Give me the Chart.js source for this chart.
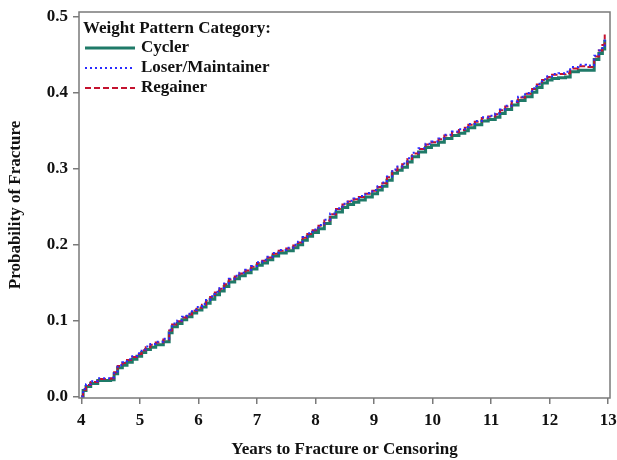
<!DOCTYPE html>
<html>
<head>
<meta charset="utf-8">
<script src="https://cdn.jsdelivr.net/npm/chart.js@4"></script>
<style>
  html, body { margin: 0; padding: 0; background: #fff; }
  #wrap { width: 617px; height: 460px; }
</style>
</head>
<body>
<div id="wrap"><canvas id="myChart" width="617" height="460"></canvas></div>
<script>
// Zaman (yıl) noktaları
const years = [4.00, 4.03, 4.08, 4.16, 4.28, 4.50, 4.56, 4.62, 4.70, 4.78, 4.87, 4.95, 5.03, 5.10, 5.18, 5.27, 5.40, 5.50, 5.55, 5.64,
  5.72, 5.80, 5.89, 5.97, 6.06, 6.13, 6.20, 6.28, 6.36, 6.44, 6.52, 6.62, 6.70, 6.80, 6.90, 7.00, 7.09, 7.18, 7.27, 7.37,
  7.50, 7.62, 7.70, 7.78, 7.86, 7.95, 8.05, 8.15, 8.25, 8.35, 8.46, 8.55, 8.65, 8.74, 8.85, 8.97, 9.06, 9.14, 9.22, 9.31,
  9.40, 9.48, 9.57, 9.65, 9.76, 9.88, 9.98, 10.10, 10.20, 10.33, 10.45, 10.55, 10.61, 10.72, 10.84, 10.95, 11.07, 11.15, 11.24, 11.35,
  11.46, 11.58, 11.70, 11.78, 11.87, 11.96, 12.04, 12.15, 12.27, 12.35, 12.49, 12.62, 12.76, 12.84, 12.90, 12.94];

// Kümülatif kırık olasılığı, her grup için
const cycler = [0.000, 0.008, 0.013, 0.017, 0.021, 0.022, 0.030, 0.038, 0.041, 0.045, 0.049, 0.053, 0.058, 0.062, 0.065, 0.068, 0.072, 0.084, 0.092, 0.096,
  0.101, 0.105, 0.110, 0.114, 0.118, 0.123, 0.128, 0.134, 0.139, 0.145, 0.151, 0.155, 0.159, 0.163, 0.168, 0.173, 0.176, 0.180, 0.185, 0.189,
  0.192, 0.196, 0.200, 0.206, 0.211, 0.216, 0.221, 0.228, 0.236, 0.243, 0.249, 0.253, 0.256, 0.259, 0.263, 0.267, 0.272, 0.277, 0.285, 0.294,
  0.298, 0.302, 0.309, 0.316, 0.322, 0.328, 0.331, 0.335, 0.340, 0.344, 0.347, 0.350, 0.354, 0.358, 0.363, 0.365, 0.368, 0.373, 0.378, 0.384,
  0.390, 0.395, 0.401, 0.407, 0.413, 0.417, 0.419, 0.420, 0.421, 0.428, 0.430, 0.430, 0.444, 0.452, 0.458, 0.470];

const loserMaintainer = [0.000, 0.010, 0.016, 0.020, 0.024, 0.025, 0.033, 0.041, 0.045, 0.049, 0.053, 0.057, 0.062, 0.066, 0.069, 0.072, 0.076, 0.088, 0.096, 0.100,
  0.105, 0.109, 0.114, 0.118, 0.122, 0.127, 0.132, 0.138, 0.143, 0.149, 0.155, 0.159, 0.163, 0.167, 0.172, 0.177, 0.180, 0.184, 0.189, 0.193,
  0.196, 0.200, 0.204, 0.210, 0.215, 0.220, 0.226, 0.233, 0.241, 0.248, 0.254, 0.258, 0.261, 0.264, 0.268, 0.272, 0.277, 0.282, 0.290, 0.299,
  0.303, 0.307, 0.314, 0.321, 0.327, 0.333, 0.336, 0.340, 0.345, 0.349, 0.352, 0.355, 0.359, 0.363, 0.368, 0.370, 0.373, 0.378, 0.383, 0.389,
  0.395, 0.400, 0.406, 0.412, 0.418, 0.422, 0.425, 0.426, 0.428, 0.434, 0.437, 0.436, 0.449, 0.456, 0.462, 0.474];

const regainer = [0.000, 0.009, 0.015, 0.019, 0.023, 0.024, 0.032, 0.040, 0.044, 0.048, 0.052, 0.056, 0.061, 0.065, 0.068, 0.071, 0.075, 0.087, 0.095, 0.099,
  0.104, 0.108, 0.113, 0.117, 0.121, 0.126, 0.131, 0.137, 0.142, 0.148, 0.154, 0.158, 0.162, 0.166, 0.171, 0.176, 0.179, 0.183, 0.188, 0.192,
  0.195, 0.199, 0.203, 0.209, 0.214, 0.219, 0.225, 0.232, 0.240, 0.247, 0.253, 0.257, 0.260, 0.263, 0.267, 0.271, 0.276, 0.281, 0.289, 0.298,
  0.302, 0.306, 0.313, 0.320, 0.326, 0.332, 0.335, 0.339, 0.344, 0.348, 0.351, 0.354, 0.358, 0.362, 0.367, 0.369, 0.372, 0.377, 0.382, 0.388,
  0.394, 0.399, 0.405, 0.411, 0.417, 0.421, 0.424, 0.425, 0.426, 0.432, 0.435, 0.434, 0.448, 0.456, 0.463, 0.477];

const xTicks = [4, 5, 6, 7, 8, 9, 10, 11, 12, 13];
const yTicks = [0, 0.1, 0.2, 0.3, 0.4, 0.5];

const legendTitle = 'Weight Pattern Category:';
const xTitle = 'Years to Fracture or Censoring';
const yTitle = 'Probability of Fracture';

const serif = '"Liberation Serif", "Times New Roman", serif';

function toPoints(vals) {
    return years.map((t, i) => ({ x: t, y: vals[i] }));
}

// Çizim alanının çerçevesi ve grafiğin içindeki açıklama
const framePlugin = {
    id: 'frame',
    afterDraw(chart) {
        const { ctx, chartArea: a } = chart;
        ctx.save();
        ctx.strokeStyle = '#7a7a7a';
        ctx.lineWidth = 1.5;
        ctx.strokeRect(a.left, a.top, a.right - a.left, a.bottom - a.top);

        ctx.fillStyle = '#111';
        ctx.font = 'bold 17px ' + serif;
        ctx.textBaseline = 'middle';
        ctx.textAlign = 'left';
        ctx.fillText(legendTitle, a.left + 4, 29);
        const rows = [48, 68, 88];
        chart.data.datasets.forEach((ds, i) => {
            const y = rows[i];
            ctx.beginPath();
            ctx.strokeStyle = ds.borderColor;
            ctx.lineWidth = ds.borderWidth;
            ctx.setLineDash(ds.borderDash || []);
            ctx.moveTo(a.left + 6, y);
            ctx.lineTo(a.left + 56, y);
            ctx.stroke();
            ctx.setLineDash([]);
            ctx.fillText(ds.label, a.left + 62, y);
        });
        ctx.restore();
    }
};

const ctx = document.getElementById('myChart').getContext('2d');
let chart = new Chart(ctx, {
    type: 'line',
    data: {
        datasets: [{
            label: 'Cycler',
            data: toPoints(cycler),
            borderColor: '#1f7a68',
            borderWidth: 3,
            order: 3
        }, {
            label: 'Loser/Maintainer',
            data: toPoints(loserMaintainer),
            borderColor: '#2a2aff',
            borderWidth: 2,
            borderDash: [2, 3],
            order: 1
        }, {
            label: 'Regainer',
            data: toPoints(regainer),
            borderColor: '#c4122e',
            borderWidth: 2,
            borderDash: [6, 3],
            order: 2
        }]
    },
    options: {
        responsive: false,
        animation: false,
        events: [],
        layout: { padding: { top: 12, right: 7, left: 0, bottom: 0 } },
        elements: {
            point: { radius: 0 },
            line: { stepped: 'before', tension: 0 }
        },
        plugins: {
            legend: { display: false },
            tooltip: { enabled: false }
        },
        scales: {
            x: {
                type: 'linear',
                min: 3.96,
                max: 13.03,
                afterBuildTicks: s => { s.ticks = xTicks.map(v => ({ value: v })); },
                afterFit: s => { s.height = 62; s.paddingRight = 0; s.paddingLeft = 0; },
                grid: { drawOnChartArea: false, tickLength: 6, color: '#7a7a7a', lineWidth: 1.5 },
                border: { display: false },
                ticks: {
                    color: '#111',
                    padding: 6,
                    maxRotation: 0,
                    font: { family: serif, size: 17, weight: 'bold' },
                    callback: v => String(v)
                },
                title: {
                    display: true,
                    text: xTitle,
                    color: '#111',
                    padding: { top: 9, bottom: 0 },
                    font: { family: serif, size: 17, weight: 'bold' }
                }
            },
            y: {
                min: -0.002,
                max: 0.5066,
                afterBuildTicks: s => { s.ticks = yTicks.map(v => ({ value: v })); },
                afterFit: s => { s.width = 79; s.paddingTop = 0; s.paddingBottom = 0; },
                grid: { drawOnChartArea: false, tickLength: 6, color: '#7a7a7a', lineWidth: 1.5 },
                border: { display: false },
                ticks: {
                    color: '#111',
                    padding: 5,
                    font: { family: serif, size: 17, weight: 'bold' },
                    callback: v => v.toFixed(1)
                },
                title: {
                    display: true,
                    text: yTitle,
                    color: '#111',
                    padding: { top: 5, bottom: 4 },
                    font: { family: serif, size: 17, weight: 'bold' }
                }
            }
        }
    },
    plugins: [framePlugin]
});
</script>
</body>
</html>
